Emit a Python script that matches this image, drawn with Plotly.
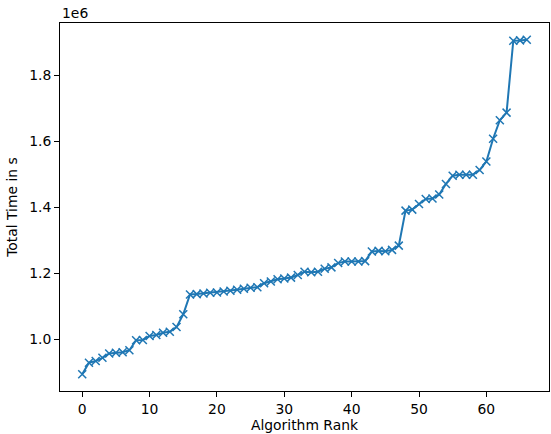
import plotly.graph_objects as go

ranks = list(range(67))
total_time = [
    0.894e6, 0.929e6, 0.934e6, 0.944e6, 0.957e6, 0.959e6, 0.961e6, 0.967e6, 0.997e6, 0.998e6,
    1.010e6, 1.013e6, 1.020e6, 1.023e6, 1.037e6, 1.076e6, 1.136e6, 1.137e6, 1.139e6, 1.141e6,
    1.142e6, 1.145e6, 1.147e6, 1.150e6, 1.153e6, 1.156e6, 1.158e6, 1.170e6, 1.175e6, 1.182e6,
    1.184e6, 1.187e6, 1.195e6, 1.205e6, 1.203e6, 1.205e6, 1.214e6, 1.218e6, 1.231e6, 1.236e6,
    1.236e6, 1.236e6, 1.237e6, 1.266e6, 1.268e6, 1.267e6, 1.271e6, 1.284e6, 1.390e6, 1.393e6,
    1.410e6, 1.425e6, 1.427e6, 1.439e6, 1.471e6, 1.496e6, 1.499e6, 1.499e6, 1.499e6, 1.513e6,
    1.539e6, 1.608e6, 1.664e6, 1.687e6, 1.905e6, 1.906e6, 1.908e6,
]
y_tickvals = [1.0e6, 1.2e6, 1.4e6, 1.6e6, 1.8e6]
y_ticktext = ["1.0", "1.2", "1.4", "1.6", "1.8"]
x_tickvals = [0, 10, 20, 30, 40, 50, 60]

color = "#1f77b4"
font = dict(family="DejaVu Sans", size=13.9, color="black")

fig = go.Figure()
fig.add_trace(go.Scatter(
    x=ranks, y=total_time, mode="lines+markers",
    line=dict(color=color, width=2),
    marker=dict(symbol="x-thin", size=8, color=color, line=dict(color=color, width=1.5)),
))

axis_common = dict(
    showline=True, mirror=True, linecolor="black", linewidth=1,
    ticks="outside", ticklen=5, tickwidth=1, tickcolor="black",
    showgrid=False, zeroline=False, tickfont=font,
)
fig.update_layout(
    width=551, height=434,
    margin=dict(l=60, r=2, t=23, b=43),
    paper_bgcolor="white", plot_bgcolor="white",
    showlegend=False, font=font,
    xaxis=dict(range=[-3.3, 69.3], tickvals=x_tickvals,
               title=dict(text="Algorithm Rank", font=font, standoff=4), **axis_common),
    yaxis=dict(range=[0.8433e6, 1.9587e6], tickvals=y_tickvals, ticktext=y_ticktext,
               title=dict(text="Total Time in s", font=font, standoff=8), **axis_common),
    annotations=[dict(text="1e6", xref="paper", yref="paper", x=0, y=1,
                      xanchor="left", yanchor="bottom", showarrow=False, font=font, yshift=0)],
)
fig.write_html("out.html", config={"displayModeBar": False},
               post_script="document.body.style.margin='0';document.body.style.overflow='hidden';")
